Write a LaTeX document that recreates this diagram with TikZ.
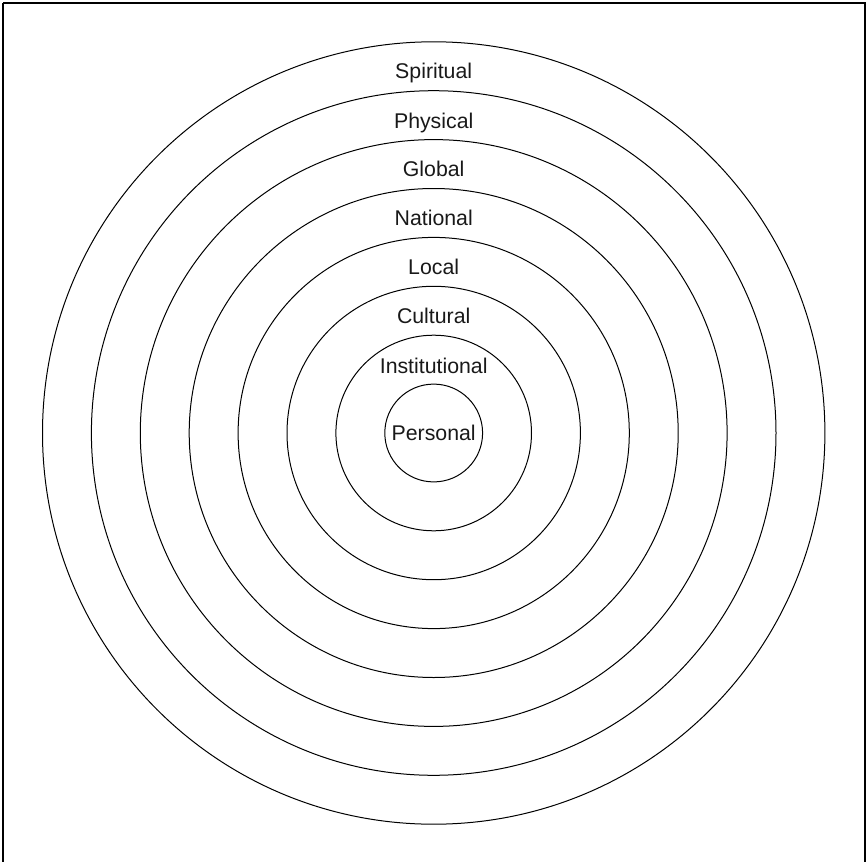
\documentclass[tikz,border=0pt]{standalone}
\usepackage{fontspec}
\setmainfont{Liberation Sans}
\begin{document}
\begin{tikzpicture}[x=1pt,y=-1pt,
  ring/.style={circle,draw,line width=1.0pt,inner sep=0pt,minimum size=#1},
  lab/.style={anchor=base,font=\fontsize{21.3}{25}\selectfont,text=black!90,inner sep=0pt}]
\useasboundingbox (0,0) rectangle (868,862);
\draw[line width=1.4pt] (3,3) -- (865,3) -- (865,880) (3,3) -- (3,880);
\coordinate (c) at (433.7,433);
\foreach \k/\n in {1/r1,2/r2,3/r3,4/r4,5/r5,6/r6,7/r7,8/r8}{
  \node[ring=2*48.9*\k pt] (\n) at (c) {};
}
\node[lab] (personal) at (433.7,440) {Personal};
\node[lab] (institutional) at (433.7,373) {Institutional};
\node[lab] (cultural) at (433.7,323) {Cultural};
\node[lab] (local) at (433.7,274) {Local};
\node[lab] (national) at (433.7,225) {National};
\node[lab] (global) at (433.7,176) {Global};
\node[lab] (physical) at (433.7,128) {Physical};
\node[lab] (spiritual) at (433.7,78) {Spiritual};
\end{tikzpicture}
\end{document}
